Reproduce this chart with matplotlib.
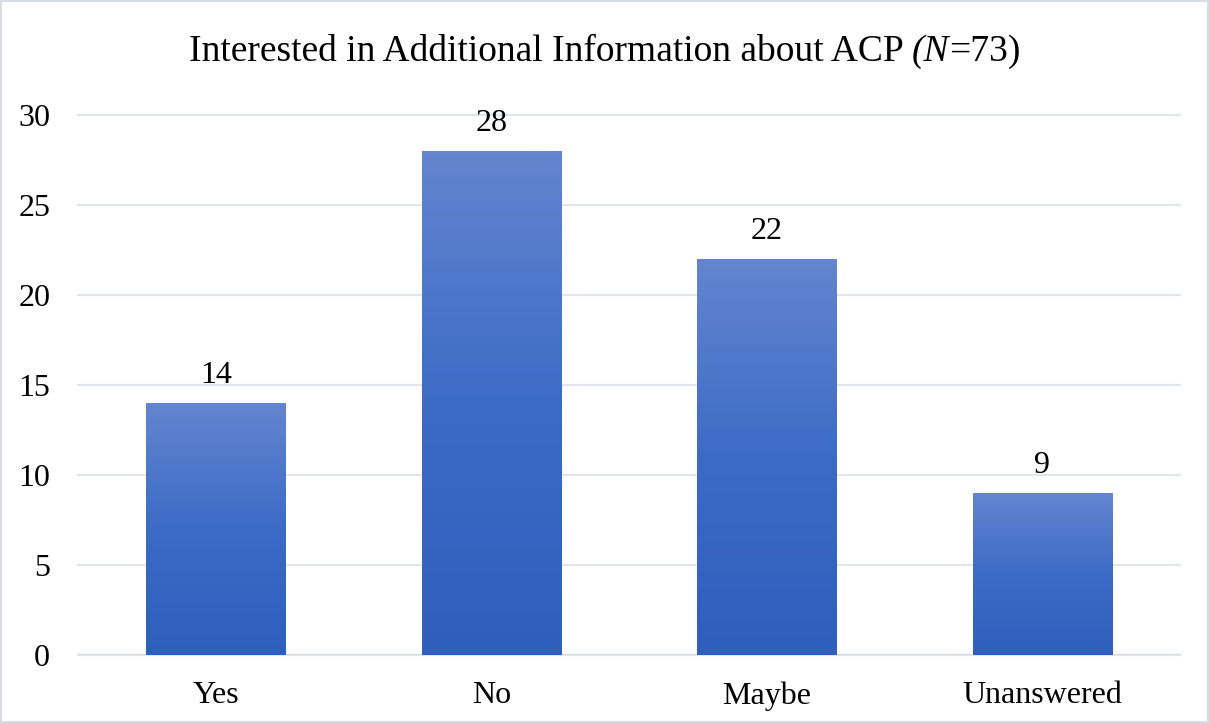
import matplotlib
matplotlib.use("Agg")
import matplotlib.pyplot as plt
import numpy as np
from matplotlib.colors import LinearSegmentedColormap
from matplotlib.patches import Rectangle

categories = ["Yes", "No", "Maybe", "Unanswered"]
counts = [14, 28, 22, 9]
yticks = [0, 5, 10, 15, 20, 25, 30]

plt.rcParams['font.family'] = ['Liberation Serif', 'DejaVu Serif']

fig = plt.figure(figsize=(12.09, 7.23), dpi=100)
ax = fig.add_axes([78/1209, 68/723, (1180-78)/1209, (655-115)/723])

cmap = LinearSegmentedColormap.from_list("g", ["#2E5FBD", "#3C6BC6", "#6485CF"])
width = 0.505
grad = np.linspace(0, 1, 256).reshape(-1, 1)
for i, v in enumerate(counts):
    ax.imshow(grad, cmap=cmap, aspect='auto', origin='lower',
              extent=[i - width/2, i + width/2, 0, v], zorder=2)
    ax.text(i, v + 0.7, str(v), ha='center', va='bottom', fontsize=23, color='#000000')

ax.set_xlim(-0.5, 3.5)
ax.set_ylim(0, 30)
ax.set_yticks(yticks)
ax.set_xticks(range(len(categories)))
ax.set_xticklabels(categories)
ax.tick_params(axis='both', length=0, labelsize=23, colors='#000000')
ax.tick_params(axis='y', pad=20)
ax.tick_params(axis='x', pad=19)
ax.grid(axis='y', color='#E2E5EA', linewidth=1.6, zorder=0)
for gl in ax.get_ygridlines():
    gl.set_clip_on(False)
ax.set_axisbelow(True)
for s in ax.spines.values():
    s.set_visible(False)
ax.axhline(0, color='#D9DDE3', linewidth=1.6, zorder=1)

title_parts = [("Interested in Additional Information about ACP ", 'normal'), ("(N", 'italic'), ("=73)", 'normal')]
fig.canvas.draw()
r = fig.canvas.get_renderer()
widths = []
objs = []
ty = 1 - 52/723
for txt, style in title_parts:
    o = fig.text(0, ty, txt, fontsize=27, style=style, va='center', ha='left')
    objs.append(o)
    widths.append(o.get_window_extent(renderer=r).width)
total = sum(widths)
x0 = (1209 - total) / 2
for o, w in zip(objs, widths):
    o.set_x(x0 / 1209)
    x0 += w

border = Rectangle((0.001, 0.001), 0.998, 0.997, transform=fig.transFigure, fill=False,
                   edgecolor='#D9DDE3', linewidth=1.5)
fig.patches.append(border)

fig.savefig("out.png", dpi=100)
